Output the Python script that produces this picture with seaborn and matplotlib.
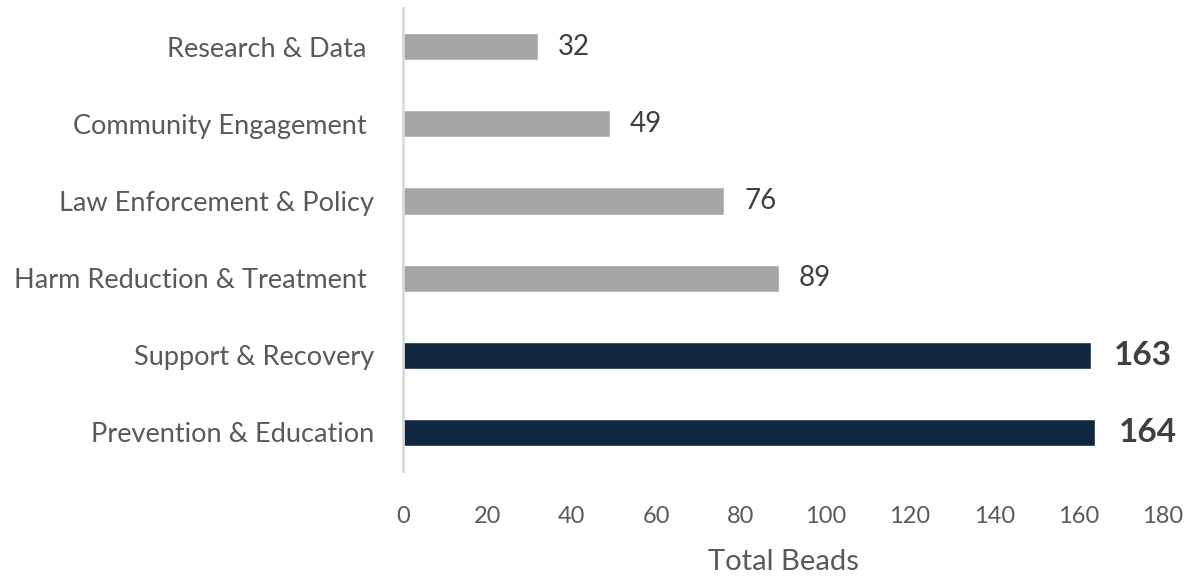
import matplotlib
matplotlib.use("Agg")
import matplotlib.pyplot as plt
import seaborn as sns
import pandas as pd

categories = ["Research & Data ", "Community Engagement ", "Law Enforcement & Policy",
              "Harm Reduction & Treatment ", "Support & Recovery", "Prevention & Education"]
values = [32, 49, 76, 89, 163, 164]
highlight = [False, False, False, False, True, True]
x_ticks = [0, 20, 40, 60, 80, 100, 120, 140, 160, 180]

GRAY = "#A6A6A6"
NAVY = "#112840"
TEXT = "#595959"
VAL = "#404040"

sns.set_theme(style="white")
plt.rcParams["font.family"] = ["Lato", "DejaVu Sans"]

df = pd.DataFrame({"category": categories, "value": values,
                   "group": ["hi" if h else "lo" for h in highlight]})

fig = plt.figure(figsize=(11.98, 5.78), dpi=100)
ax = fig.add_axes([0.3364, 0.185, 0.9708 - 0.3364, 0.986 - 0.185])

sns.barplot(data=df, y="category", x="value", hue="group", orient="h",
            palette={"hi": NAVY, "lo": GRAY}, dodge=False, width=0.35,
            legend=False, ax=ax, saturation=1)

ax.set_xlim(0, 180)
ax.set_ylim(5.5, -0.5)
ax.set_xticks(x_ticks)
ax.set_xticklabels([str(t) for t in x_ticks], fontsize=17, color=TEXT)
ax.tick_params(axis="x", length=0, pad=25)
ax.tick_params(axis="y", length=0, pad=21, labelsize=19.5, labelcolor=TEXT)
ax.set_ylabel("")
ax.set_xlabel("Total Beads", fontsize=21, color=TEXT, labelpad=16)

for s in ["top", "right", "bottom"]:
    ax.spines[s].set_visible(False)
ax.spines["left"].set_color("#D9D9D9")
ax.spines["left"].set_linewidth(2)

for i, (v, h) in enumerate(zip(values, highlight)):
    if h:
        ax.annotate(str(v), xy=(v, i), xytext=(16.5, 0), textcoords="offset points",
                    va="center", ha="left", fontsize=24, fontweight="bold", color=VAL)
    else:
        ax.annotate(str(v), xy=(v, i), xytext=(14.5, 0), textcoords="offset points",
                    va="center", ha="left", fontsize=20, color=VAL)

fig.savefig("out.png", dpi=100)
